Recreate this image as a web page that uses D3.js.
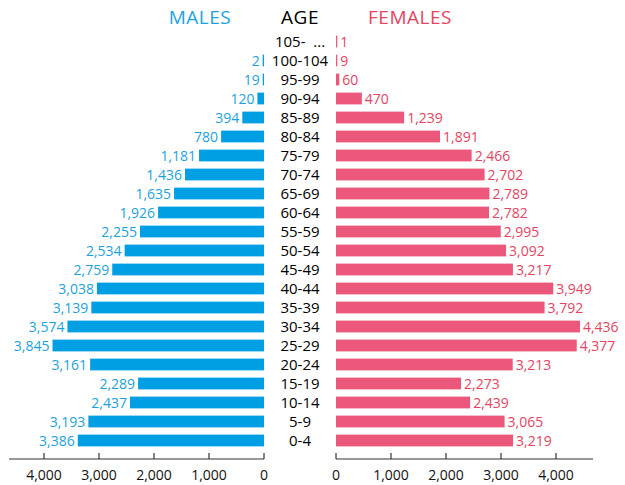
<!DOCTYPE html>
<html>
<head>
<meta charset="utf-8">
<script src="https://cdn.jsdelivr.net/npm/d3@7"></script>
<style>
  body { margin: 0; background: #fff; }
  svg text { font-family: "Open Sans", "DejaVu Sans", sans-serif; white-space: pre; }
</style>
</head>
<body>
<div id="corpo"></div>
<script>
// age groups, top to bottom
var ages = ["105-  ...", "100-104", "95-99", "90-94", "85-89", "80-84", "75-79", "70-74",
    "65-69", "60-64", "55-59", "50-54", "45-49", "40-44", "35-39", "30-34", "25-29",
    "20-24", "15-19", "10-14", "5-9", "0-4"];
var males = [null, 2, 19, 120, 394, 780, 1181, 1436, 1635, 1926, 2255, 2534, 2759,
    3038, 3139, 3574, 3845, 3161, 2289, 2437, 3193, 3386];
var females = [1, 9, 60, 470, 1239, 1891, 2466, 2702, 2789, 2782, 2995, 3092, 3217,
    3949, 3792, 4436, 4377, 3213, 2273, 2439, 3065, 3219];
var ticks = [0, 1000, 2000, 3000, 4000];

var width = 625, height = 485;
var corMasc = "#009fe3", corFem = "#eb587b";
var txtMasc = "#1ca2e1", txtFem = "#e8435f";

var svg = d3.select("#corpo").append("svg")
    .attr("width", width)
    .attr("height", height);

var y = d3.scaleBand()
    .domain(ages)
    .range([32, 450])
    .paddingInner(0.38)
    .paddingOuter(0.19);

// left side grows to the left
var xM = d3.scaleLinear().domain([0, 4000]).range([264, 44]);
var xF = d3.scaleLinear().domain([0, 4000]).range([336, 556]);

var fmt = d3.format(",");
var minW = 1.3; // tiny values still show a sliver

var data = ages.map(function(a, i) {
    return {age: a, m: males[i], f: females[i]};
});

// headers
var heads = [["MALES", 200, txtMasc], ["AGE", 300, "#000"], ["FEMALES", 410, txtFem]];
svg.selectAll(".head")
    .data(heads)
    .enter().append("text")
    .attr("class", "head")
    .attr("x", function(d) { return d[1]; })
    .attr("y", 24)
    .attr("text-anchor", "middle")
    .style("font-size", "19px")
    .style("letter-spacing", "0.5px")
    .style("fill", function(d) { return d[2]; })
    .text(function(d) { return d[0]; });

var row = svg.selectAll(".row")
    .data(data)
    .enter().append("g")
    .attr("class", "row");

// male bars
row.filter(function(d) { return d.m != null; })
    .append("rect")
    .attr("x", function(d) { return Math.min(xM(d.m), xM(0) - minW); })
    .attr("y", function(d) { return y(d.age); })
    .attr("width", function(d) { return Math.max(xM(0) - xM(d.m), minW); })
    .attr("height", y.bandwidth())
    .style("fill", corMasc);

row.filter(function(d) { return d.m != null; })
    .append("text")
    .attr("x", function(d) { return Math.min(xM(d.m), xM(0) - minW) - 3; })
    .attr("y", function(d) { return y(d.age) + y.bandwidth() / 2; })
    .attr("dy", "0.36em")
    .attr("text-anchor", "end")
    .style("font-size", "14px")
    .style("fill", txtMasc)
    .text(function(d) { return fmt(d.m); });

// female bars
row.append("rect")
    .attr("x", xF(0))
    .attr("y", function(d) { return y(d.age); })
    .attr("width", function(d) { return Math.max(xF(d.f) - xF(0), minW); })
    .attr("height", y.bandwidth())
    .style("fill", corFem);

row.append("text")
    .attr("x", function(d) { return Math.max(xF(d.f), xF(0) + minW) + 3; })
    .attr("y", function(d) { return y(d.age) + y.bandwidth() / 2; })
    .attr("dy", "0.36em")
    .style("font-size", "14px")
    .style("fill", txtFem)
    .text(function(d) { return fmt(d.f); });

// age labels
row.append("text")
    .attr("x", 300)
    .attr("y", function(d) { return y(d.age) + y.bandwidth() / 2; })
    .attr("dy", "0.36em")
    .attr("text-anchor", "middle")
    .style("font-size", "15px")
    .style("fill", "#000")
    .text(function(d) { return d.age; });

// axes
var eixoY = 459;
function drawAxis(scale, x0, x1) {
    var g = svg.append("g").attr("transform", "translate(0," + eixoY + ")");
    g.append("line")
        .attr("x1", x0).attr("x2", x1)
        .style("stroke", "#333").style("stroke-width", 1.2);
    g.selectAll(".tk").data(ticks).enter().append("line")
        .attr("x1", function(d) { return scale(d); })
        .attr("x2", function(d) { return scale(d); })
        .attr("y1", -6).attr("y2", 0)
        .style("stroke", "#333").style("stroke-width", 1.2);
    g.selectAll(".lb").data(ticks).enter().append("text")
        .attr("x", function(d) { return scale(d); })
        .attr("y", 21)
        .attr("text-anchor", "middle")
        .style("font-size", "14px")
        .style("fill", "#111")
        .text(function(d) { return fmt(d); });
}
drawAxis(xM, 9, xM(0));
drawAxis(xF, xF(0), 593);
</script>
</body>
</html>
